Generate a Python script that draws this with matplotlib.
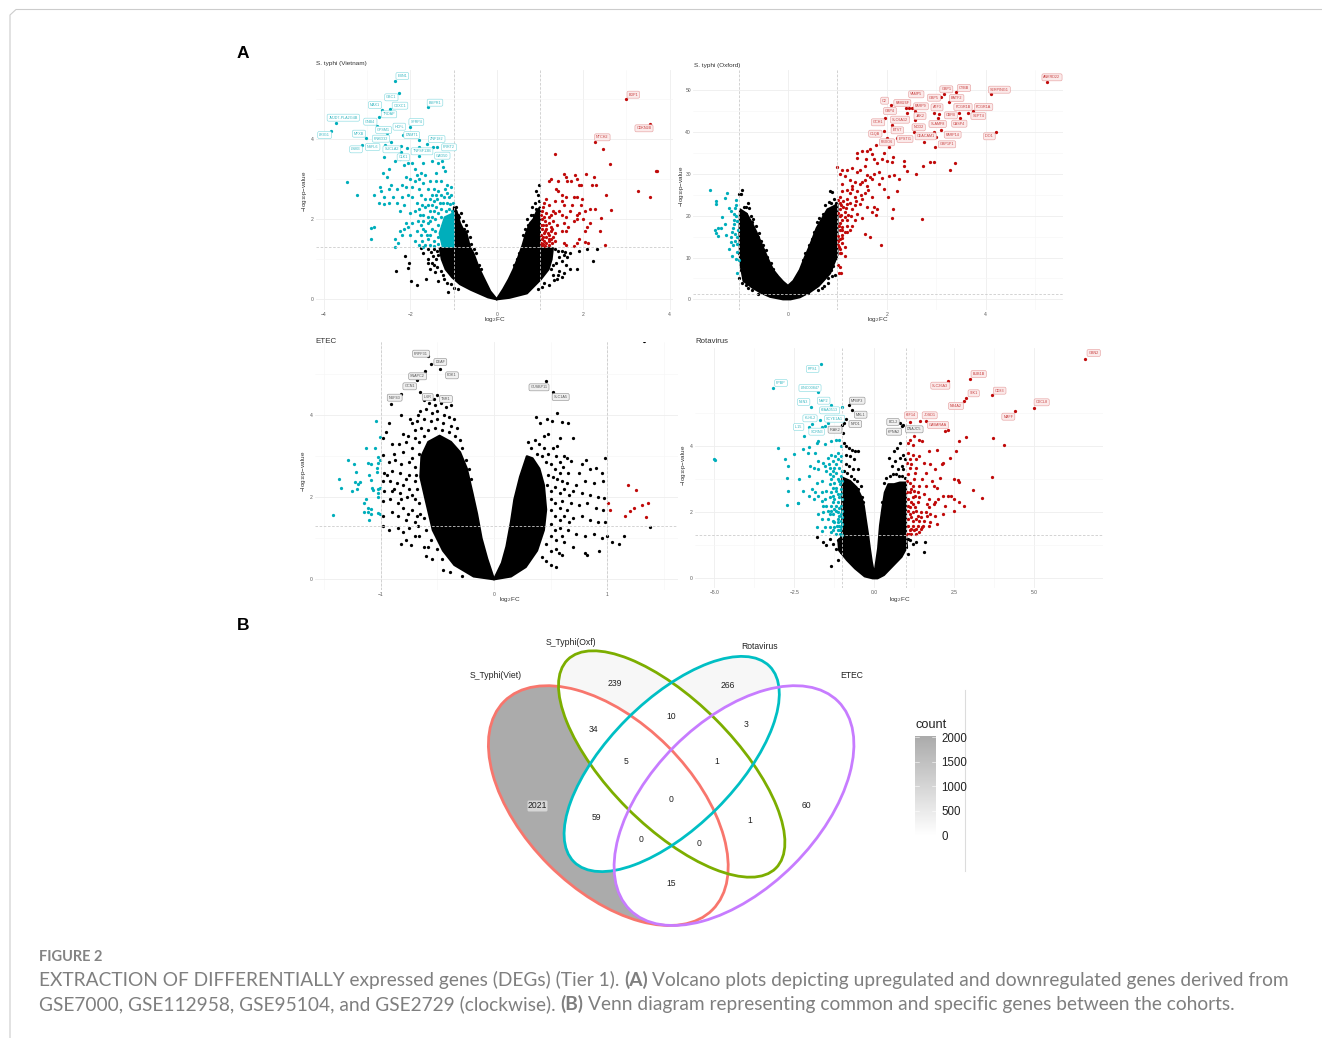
import matplotlib
matplotlib.use("Agg")
import matplotlib.pyplot as plt
import numpy as np
from matplotlib.patches import Ellipse, Polygon, FancyBboxPatch

W, H = 1322, 1038

# ---- S. typhi (Vietnam) values
vn_down = [(-2.36,5.47),(-2.27,5.17),(-1.58,4.8),(-2.66,4.73),(-2.47,4.76),(-2.72,4.57),(-3.72,4.42),(-2.76,4.33),(-2.01,4.32),(-3.83,4.22),
    (-2.55,4.17),(-2.18,4.12),(-3.03,4.03),(-1.81,3.99),(-2.44,3.94),(-3.11,3.87),(-2.58,3.87),(-2.21,3.83),(-1.62,3.89),(-1.39,3.82),(-1.47,3.81),
    (-2.07,3.79),(-1.79,3.82),(-2.21,3.69),(-1.81,3.58),(-3.47,2.94),(-3.24,2.62),(-2.85,2.6),(-2.92,1.79),(-2.83,1.8),(-2.9,1.5),
    (-2.6,3.55),(-2.5,3.25),(-2.63,3.15),(-2.55,3.05),(-2.45,2.85),(-2.35,3.45),(-2.25,3.5),(-2.15,3.35),(-2.05,3.4),(-1.95,3.4),(-1.9,3.25),(-1.7,3.4),
    (-1.5,3.45),(-1.35,3.4),(-1.27,3.45),(-1.25,3.3),(-1.2,3.2),(-1.4,3.15),(-1.85,3.1),(-1.75,3.15),(-1.65,3.1),(-2.1,3.05),(-2.0,3.0),(-1.9,2.95),
    (-1.8,3.0),(-1.7,2.9),(-1.55,2.95),(-1.4,2.95),(-1.3,2.95),(-1.15,2.85),(-2.7,2.8),(-2.68,2.72),(-2.5,2.75),(-2.3,2.75),(-2.2,2.85),(-2.1,2.8),
    (-1.95,2.8),(-1.8,2.75),(-1.6,2.75),(-1.45,2.75),(-2.6,2.55),(-2.72,2.4),(-2.62,2.38),(-2.5,2.4),(-2.4,2.55),(-2.3,2.4),(-2.2,2.55),(-2.15,2.35),
    (-2.05,2.6),(-1.95,2.55),(-1.85,2.4),(-1.75,2.6),(-1.65,2.5),(-2.25,2.2),(-2.0,2.15),(-1.9,2.2),(-1.8,2.25),(-1.7,2.1),(-2.1,1.9),(-2.05,1.8),
    (-1.95,1.9),(-2.15,1.75),(-2.25,1.7),(-2.2,1.6),(-2.35,1.5),(-2.28,1.4),(-2.35,1.32),(-2.0,1.6),(-1.85,1.7),(-1.75,1.6),(-1.9,1.45),(-1.8,1.35),
    (-1.6,1.5),(-1.65,1.7),(-1.6,1.9),(-1.55,2.2),(-1.45,2.45),(-1.3,2.6),(-1.15,2.65),(-1.05,2.8),(-1.1,2.55),(-1.25,2.4),(-1.55,1.35),(-1.5,1.75),
    (-1.5,2.05),(-1.4,2.3),(-1.6,2.35),(-1.7,1.95),(-1.75,1.85),(-1.05,2.6),(-1.2,2.75),(-1.35,2.7),(-1.5,2.6),(-1.4,2.6),(-1.6,2.05),(-1.65,1.35),
    (-1.02,2.4),(-1.08,2.38),(-1.15,2.42),(-1.22,2.55),(-1.32,2.42),(-1.38,2.5),(-1.5,2.35),(-1.55,2.5),(-1.65,2.3),(-1.72,2.35),(-1.78,2.1),(-1.83,1.95),(-1.7,1.75),(-1.45,2.2),(-1.35,2.15),(-1.28,2.25),
    (-1.42,2.0),(-1.55,1.95),(-1.35,1.85),(-1.42,1.7),(-1.55,1.6),(-1.35,1.55),(-1.45,1.45),(-1.35,1.38),(-1.45,1.33),(-1.72,1.45),(-1.62,1.6),(-1.7,1.32),(-1.28,2.05),(-1.18,2.2),(-1.1,2.25),(-1.03,2.2)]
vn_up = [(3.0,5.0),(3.55,4.38),(2.28,3.93),(2.47,3.75),(1.36,3.63),(2.62,3.39),(3.68,3.22),(3.72,3.2),(3.26,2.72),(3.55,2.55),(2.52,2.62),(2.64,2.23),
    (2.42,2.04),(2.4,1.71),(2.51,1.37),(1.2,2.97),(1.25,3.0),(1.43,2.95),(1.55,3.13),(1.6,3.05),(1.63,2.95),(1.72,2.95),(1.82,3.1),(1.85,3.0),(2.07,3.13),
    (2.25,3.07),(1.9,2.87),(1.95,2.85),(2.2,2.85),(2.3,2.87),(1.38,2.75),(1.43,2.72),(1.5,2.6),(1.6,2.55),(1.8,2.55),(1.85,2.55),(1.98,2.5),(1.1,2.4),
    (1.15,2.5),(1.22,2.35),(1.35,2.45),(1.5,2.45),(1.55,2.35),(1.75,2.35),(1.95,2.35),(2.05,2.2),(2.15,2.25),(2.27,2.25),(1.05,2.2),(1.15,2.15),(1.25,2.1),
    (1.35,2.15),(1.45,2.2),(1.5,2.1),(1.6,2.05),(1.7,2.2),(1.85,2.1),(1.9,2.15),(2.0,2.0),(1.05,2.0),(1.12,1.95),(1.2,1.9),(1.3,1.95),(1.4,1.85),(1.55,1.9),
    (1.65,1.8),(1.78,1.95),(1.85,2.0),(2.1,1.8),(2.15,1.9),(1.05,1.75),(1.1,1.65),(1.15,1.75),(1.25,1.7),(1.35,1.65),(1.5,1.7),(1.6,1.7),(2.05,1.7),(1.05,1.5),
    (1.1,1.45),(1.15,1.55),(1.2,1.45),(1.25,1.5),(1.3,1.55),(1.05,1.35),(1.12,1.33),(1.22,1.35),(1.55,1.4),(1.6,1.35),(1.8,1.33),(1.85,1.4),(1.9,1.5),(2.05,1.43),
    (2.12,1.4),(1.02,1.85),(1.03,1.6),(1.08,1.85),(1.18,1.65),(1.08,1.55),(1.15,1.4),(1.22,1.6),(1.28,1.75),(1.1,2.05),(1.2,2.05),(1.3,2.2),(1.08,2.3),
    (1.15,1.85),(1.25,1.82),(1.12,1.72),(1.2,1.52),(1.28,1.42),(1.35,1.45),(1.02,1.42),(1.08,1.38),(1.02,2.1)]
vn_other = [(-2.33,.7),(-2.13,1.08),(-2.03,.9),(-2.05,.78),(-1.98,.47),(-1.84,.35),(-1.63,.5),(-1.13,.18),(-1.7,1.15),(-1.6,1.0),(-1.5,.9),(-1.75,1.28),
    (-1.55,.75),(-1.35,.45),(-1.25,.6),(1.1,.4),(1.3,.6),(1.4,.5),(1.5,.55),(1.7,.75),(1.87,.75),(2.22,.97),(2.1,1.25),(2.33,1.26),(1.9,1.2),(1.7,1.15),
    (1.5,.95),(1.55,1.1),(.95,2.6),(.97,2.85),(.92,2.7),(.98,2.45),(-.95,2.3),(-.9,2.1),(-.78,1.95),(-.72,1.85),(-.62,1.55),(.62,1.6),(.7,2.0),(.8,2.1),
    (-1.6,1.25),(-1.52,1.18),(-1.45,1.25),(-1.38,1.2),(-1.48,1.08),(-1.4,1.0),(-1.45,.85),(-1.38,.8),(-1.35,1.1),(-1.58,.9),(-1.3,.7),(-1.42,.68),(-1.22,.52),(-1.15,.42),(-1.05,.38),(-.98,.28),(-.9,.25),
    (-.88,2.05),(-.82,2.15),(-.75,1.75),(-.68,1.7),(-.6,1.38),(-.52,1.25),(-.48,1.15),(-.42,.85),(-.36,.75),
    (1.35,1.25),(1.42,1.2),(1.5,1.22),(1.58,1.18),(1.62,1.05),(1.45,1.05),(1.38,.9),(1.6,.85),(1.3,.85),(1.45,.72),(1.32,.48),(1.2,.35),(1.05,.3),(.95,.25),(1.25,.75),(1.55,.65),(1.42,.62),
    (.88,2.4),(.85,2.1),(.82,2.3),(.9,2.25),(.72,1.85),(.66,1.75),(.52,1.15),(.46,1.0),(.4,.85)]
vn_cloud = [(0,0),(-.2,.05),(-.39,.14),(-.6,.24),(-.85,.38),(-1.03,.55),(-1.18,.75),(-1.27,1.0),(-1.32,1.28),(-1.0,1.3),(-.99,2.3),(-.93,2.2),(-.85,1.9),(-.78,1.75),(-.7,1.65),(-.62,1.3),(-.54,1.15),(-.42,.8),(-.31,.55),(-.15,.2),
    (0,0),(.15,.25),(.28,.5),(.39,.75),(.5,1.05),(.6,1.35),(.68,1.65),(.77,1.9),(.85,2.0),(.93,2.2),(1.0,2.3),(1.0,1.3),(1.3,1.28),(1.27,1.0),(1.2,.75),(1.02,.5),(.7,.15),(.3,.04)]
vn_cyan_cloud = [(-1.0,1.32),(-1.25,1.32),(-1.32,1.65),(-1.2,2.05),(-1.0,2.15)]
vn_names = ["EBN1","GBC1","MAX1","CXXC1","TRDAP","BMPR1","JMJD7-PLA2G4B","GNB4","GPSM1","SFRP4","HCFL","DNMT1","MFXB","LRIG1","PNKD32","ZNF182","NSFL6","SUCLA2","TNFSF13B","PRRT2","LSM3","GAD50","CLK1"]
vn_up_names = ["BDP1","CDKN2B","NTCH2"]

# ---- S. typhi (Oxford)
ox_up = [(5.25,52),(4.1,49),(3.4,49.5),(3.15,49),(3.1,48.5),(3.25,47.2),(2.08,46.5),(2.38,45.8),(2.45,45.8),(2.5,45.8),(2.58,45),(2.4,44.6),(2.95,44.5),(3.05,44.3),
    (3.47,44.6),(3.65,44.5),(3.75,45),(3.48,43.3),(3.03,43.3),(1.97,43.4),(2.4,43.4),(2.58,42.8),(2.1,41.6),(3.1,40.5),(2.95,40.1),(2.55,40),(1.95,40.3),(4.22,40.1),
    (3.0,38.8),(2.0,38.6),(2.2,38.6),(2.75,37.6),(1.9,37.8),(2.98,36.5),(2.05,36.4),(1.78,37),(1.65,36),(1.6,35.5),(1.5,35.5),(1.4,35),(1.7,34.8),(1.95,35),(2.13,34),
    (1.4,33.9),(1.58,33.6),(1.75,33.6),(1.9,33.6),(2.0,33.2),(2.35,33.2),(2.1,32.8),(2.95,32.8),(2.88,32.8),(3.38,32.5),(2.73,32),(2.35,31.8),(1.0,31.6),(1.1,31),(1.2,31),
    (1.3,31.5),(1.45,31),(1.55,31.8),(1.8,32.5),(3.27,30.9),(2.4,30.6),(2.6,30),(1.05,30),(1.15,29.5),(1.4,30.5),(1.6,29.8),(1.85,30.5),(2.05,29.5),(2.15,29.7),(2.25,28.7),
    (1.25,28.5),(1.35,28),(1.5,28),(1.7,28.7),(1.9,29),(1.1,27.5),(1.3,27),(1.45,27.5),(1.6,27),(1.85,27.5),(1.1,26),(1.25,25.5),(1.4,26),(1.55,25.5),(1.95,26.3),(2.2,25.8),
    (2.03,24.5),(1.05,24.5),(1.2,24),(1.35,24.5),(1.5,24),(1.7,24.5),(1.05,23),(1.2,22.8),(1.45,22.8),(1.6,22.2),(1.75,22.2),(1.8,21.5),(2.13,21.6),(1.05,21.5),(1.15,21),
    (1.3,21.5),(1.4,20.5),(1.7,20.8),(1.78,20.2),(2.1,19.5),(2.72,19.3),(1.05,20),(1.2,19),(1.35,19),(1.5,19.5),(1.05,18.2),(1.2,17.5),(1.3,17.5),(1.05,16.5),(1.1,15.5),
    (1.25,16.5),(1.55,15.6),(1.65,14.8),(1.05,14.5),(1.1,13.5),(1.15,12.5),(1.88,13),(1.05,12),(1.05,11),(1.15,10.4),(1.02,8.3),(1.03,6.3),(1.07,6.3),(1.05,7.8),
    (1.12,23.5),(1.25,23),(1.12,22),(1.22,20.2),(1.1,19),(1.1,17.3),(1.15,16),(1.02,15.2),(1.02,13),(1.08,11),(1.3,26.5),(1.2,26.2),(1.55,28.5),(1.65,29.2),(1.75,30),
    (1.02,23.8),(1.08,22.5),(1.18,21.8),(1.02,20.6),(1.08,20.2),(1.15,19.8),(1.28,20),(1.03,17.5),(1.1,16.5),(1.2,16.2),(1.02,14),(1.1,14.7),(1.03,12.5),(1.35,22.5),(1.38,23.5),(1.48,25),(1.62,26.2)]
ox_down = [(-1.57,26.2),(-1.46,23.4),(-1.45,22.7),(-1.24,25.4),(-1.27,24.3),(-1.05,23.8),(-1.19,21.8),(-1.34,19.6),(-1.42,17.1),(-1.35,17),(-1.27,18),(-1.45,15.8),(-1.47,16.5),
    (-1.42,15.2),(-1.25,15.5),(-1.12,17),(-1.1,18),(-1.05,20),(-1.1,20.5),(-1.15,21.2),(-1.08,21.8),(-1.05,22.5),(-1.03,18.8),(-1.1,19),(-1.13,16),(-1.15,15),(-1.08,15.7),
    (-1.02,16.5),(-1.03,15),(-1.08,14),(-1.12,13),(-1.15,13.8),(-1.2,12),(-1.13,10.3),(-1.04,11.2),(-1.0,9.5),(-1.04,6.3),(-1.05,9.7),(-1.03,13.3)]
ox_other = [(-1,25.2),(-.93,26.2),(-.95,25.3),(.85,25.8),(.9,25.6),(-.8,19),(-.75,20),(.8,5),(.9,5.5),(-.9,5),(-.85,3.5),(.55,4),(.4,1.5),(-.7,19.2),(-.6,15),(.65,14),(-.9,22),(-.8,23),(-.85,20.5),(.98,23),(.95,22),
    (-.85,22.2),(-.78,21.8),(-.72,18.5),(-.65,17.5),(-.58,15.8),(-.55,14),(-.5,13),(-.45,11.8),(-.42,10.2),(-.35,8.8),(-.3,7.2),(-.25,5.8),(-.18,4.8),
    (.18,5),(.25,7),(.3,9.5),(.35,11),(.42,13),(.48,14.5),(.52,16),(.58,18.5),(.62,19.5),(.7,20.5),(.75,22.5),(.82,23.2),(.88,23),(.93,24),(.95,5.8),(.88,7),(.92,8),(.97,9.8),(.8,4),(.72,3.2),
    (-1,5),(-.95,7),(-1.0,11),(-.93,3.8),(-.8,2.6),(-.72,2.2),(-.6,1.2),(.6,2.2),(.68,2.8)]
ox_cloud = [(0,3.2),(-.1,4.2),(-.2,5.5),(-.3,7.0),(-.42,10),(-.52,12.8),(-.63,15.8),(-.72,18),(-.84,20.5),(-.97,21.5),(-.98,16.2),(-.97,9),(-.9,4.4),(-.72,2.8),(-.55,1.6),(-.36,.6),(-.1,0),(.05,0),(.24,.5),(.45,1.8),(.62,3.2),(.85,6.2),
    (1,10.6),(1,22.8),(.92,22.2),(.8,21.5),(.7,19.5),(.58,17),(.45,13),(.34,10),(.24,7.0),(.11,4.4)]
ox_names = ["ANKRD22","CYBB","GBP1","SERPING1","VAMP5","GBP5","BATF2","FAM26F","C2","GBP4","PARP9","ATF3","FCGR1B","FCGR1A","JAK2","CBFB","SEPT4","SLC6A12","GCH1","SLAMF8","CASP4","ETV7","NOD2","C1QB","PARP14","IDO1","EPSTI1","CEACAM1","FBXO6","GBP1P1"]

# ---- ETEC
et_down = [(-1.04,3.87),(-1.01,3.48),(-1.13,3.2),(-1.05,3.21),(-1.29,2.9),(-1.24,2.8),(-1.11,2.83),(-1.09,2.82),(-1.02,2.99),(-1.01,2.91),(-1.02,2.83),(-1.035,2.71),(-1.035,2.61),(-1.22,2.61),
    (-1.1,2.54),(-1.37,2.45),(-1.23,2.38),(-1.18,2.38),(-1.2,2.33),(-1.085,2.42),(-1.35,2.22),(-1.25,2.15),(-1.21,2.2),(-1.08,2.22),(-1.07,2.18),(-1.005,2.22),(-1.02,2.2),(-1.02,2.1),(-1.02,2),
    (-1.13,1.96),(-1.15,1.85),(-1.11,1.73),(-1.09,1.72),(-1.15,1.65),(-1.115,1.65),(-1.09,1.6),(-1.02,1.61),(-1.01,1.59),(-1.42,1.57),(-1.1,1.44)]
et_up = [(1.18,2.29),(1.25,2.18),(1.01,1.86),(1.02,1.69),(1.2,1.67),(1.24,1.73),(1.16,1.55),(1.31,1.81),(1.36,1.87),(1.34,1.53)]
et_other = [(1.32,5.8),(-.58,5.44),(-.56,5.26),(-.48,5.12),(-.61,5.08),(-.68,4.85),(-.65,4.58),(-.82,4.53),(-.91,4.27),(-.82,4.0),(-.5,4.5),(-.53,4.4),(.46,4.84),(.52,4.58),
    (.37,3.97),(.56,4.05),(.47,3.9),(.41,3.8),(.51,3.85),(.6,3.83),(.65,3.8),(.7,3.44),(.58,3.45),(.48,3.55),(.44,3.5),(.55,3.0),(.62,3.0),(.64,2.95),(.68,2.88),(.78,2.8),(.81,2.9),(.85,2.7),(.9,2.72),(.98,2.95),
    (.95,2.6),(.75,2.6),(.65,2.6),(.58,2.6),(.72,2.3),(.8,2.4),(.88,2.35),(.96,2.4),(.62,2.2),(.7,2.15),(.78,2.1),(.85,2.05),(.92,2.0),(.97,1.98),(.6,1.9),(.68,1.85),(.75,1.8),(.82,1.85),(.9,1.75),(.96,1.7),
    (.62,1.55),(.7,1.5),(.78,1.55),(.85,1.45),(.92,1.4),(.98,1.4),(.58,1.25),(.65,1.2),(.72,1.1),(.8,1.05),(.88,1.1),(.95,1.0),(1.0,1.05),(1.04,.9),(1.1,.87),(1.15,1.05),(1.38,1.27),(.62,.9),(.7,.8),(.8,.65),(.82,.6),(.93,.7),(.6,.6),(.5,.35),(.55,.3),(.57,.65),
    (-.74,3.9),(-.72,3.8),(-.67,4.0),(-.93,3.8),(-.95,3.6),(-.8,3.55),(-.76,3.5),(-.98,3.45),(-.9,3.3),(-.84,3.3),(-.8,3.1),(-.72,3.2),(-.98,3.02),(-.93,2.87),(-.87,2.9),(-.82,2.8),(-.75,2.85),(-.97,2.6),
    (-.9,2.65),(-.83,2.6),(-.75,2.55),(-.7,2.4),(-.98,2.4),(-.92,2.4),(-.86,2.35),(-.8,2.3),(-.75,2.2),(-.97,2.15),(-.9,2.15),(-.83,2.1),(-.77,2.0),(-.7,1.95),(-.98,1.9),(-.92,1.95),(-.85,1.85),(-.8,1.75),(-.72,1.7),
    (-.98,1.55),(-.85,1.55),(-.78,1.45),(-.7,1.4),(-.98,1.3),(-.85,1.25),(-.8,1.15),(-.7,1.05),(-.82,.85),(-.73,.83),(-.62,.78),(-.58,.8),(-.6,.57),(-.55,.5),(-.45,.22),(-.39,.17),(-.28,.08),(-.67,1.3),(-.65,1.6),
    # top of the left wing, above the solid part
    (-.62,4.38),(-.57,4.3),(-.52,4.25),(-.47,4.3),(-.42,4.2),(-.38,4.25),(-.65,4.1),(-.6,4.15),(-.55,4.05),(-.5,4.1),(-.44,4.0),(-.4,3.95),(-.35,3.9),(-.68,3.85),(-.62,3.9),(-.56,3.85),(-.5,3.9),(-.45,3.8),(-.38,3.75),
    (-.33,3.7),(-.7,3.65),(-.64,3.7),(-.58,3.65),(-.52,3.7),(-.46,3.65),(-.4,3.6),(-.34,3.5),(-.3,3.4),(-.7,3.45),(-.66,3.35),(-.62,3.5),(-.28,3.2),(-.25,2.9),(-.22,2.7),(-.2,2.45),
    # solid edge of the left wing
    (-.72,2.95),(-.7,2.75),(-.69,2.55),(-.68,2.2),(-.66,1.85),(-.62,1.5),(-.6,1.2),(-.56,.95),(-.5,.75),(-.46,.5),(-.66,3.05),(-.78,3.35),(-.88,3.05),(-.94,2.55),(-.78,2.45),(-.88,2.2),(-.72,2.05),(-.82,1.95),(-.9,1.65),(-.76,1.6),(-.68,1.55),(-.93,1.2),(-.75,1.25),(-.66,1.05),(-.78,.95),
    # right wing
    (.3,3.35),(.33,3.2),(.36,3.4),(.4,3.3),(.44,3.2),(.48,3.05),(.52,3.2),(.56,3.25),(.38,3.05),(.42,3.0),(.46,2.85),(.5,2.8),(.54,2.7),(.58,2.85),(.61,2.75),(.48,2.55),(.52,2.5),(.56,2.45),(.6,2.4),(.64,2.35),
    (.47,2.3),(.5,2.15),(.54,2.25),(.58,2.1),(.66,2.05),(.5,1.95),(.54,1.85),(.58,1.75),(.64,1.7),(.5,1.7),(.54,1.55),(.58,1.45),(.66,1.4),(.5,1.35),(.54,1.2),(.5,1.05),(.55,.95),(.6,1.05),(.46,.85),(.5,.7),(.55,.75),(.42,.55),(.46,.45)]
et_cloud_left = [(0,0),(-.06,.5),(-.11,1.0),(-.15,1.6),(-.19,2.1),(-.24,2.7),(-.3,3.1),(-.38,3.35),(-.48,3.5),(-.58,3.35),(-.64,3.0),(-.65,2.5),(-.6,1.9),(-.54,1.2),(-.45,.7),(-.35,.35),(-.18,.07)]
et_cloud_right = [(0,0),(.07,.4),(.11,.8),(.15,1.4),(.18,1.95),(.23,2.5),(.29,3.0),(.34,2.95),(.4,2.7),(.44,2.3),(.46,1.7),(.44,1.2),(.38,.7),(.28,.3),(.15,.07)]
et_names = ["PRPF31","DEAF","PDK1","SNAPC2","GCN1","NUP43","IL6R","TSR1","GUSBP11","SLC1A5"]

# ---- Rotavirus
ro_down = [(-1.68,6.48),(-3.16,5.78),(-1.77,5.64),(-1.98,5.2),(-1.35,5.25),(-1.02,5.19),(-1.7,4.8),(-1.96,4.67),(-2.04,4.57),(-1.44,4.7),(-1.54,4.63),(-1.65,4.59),(-2.19,4.31),(-3.02,3.94),(-2.5,3.77),(-2.78,3.63),
    (-2.7,3.41),(-2.73,3.04),(-2.71,2.66),(-2.72,2.23),(-2.4,2.27),(-2.37,2.29),(-5.01,3.61),(-4.97,3.59),(-2.35,3.0),(-2.24,2.65),(-2.23,3.91),(-2.06,3.79),(-2.04,3.98),(-1.79,4.11),
    (-1.75,4.15),(-1.55,4.08),(-1.35,4.17),(-1.2,4.2),(-1.1,4.18),(-1.05,4.0),(-1.85,3.8),(-1.75,3.55),(-1.6,3.5),(-1.45,3.65),(-1.3,3.55),(-1.15,3.6),(-1.05,3.55),(-2.0,3.4),(-1.9,3.35),(-1.75,3.3),(-1.55,3.4),(-1.4,3.35),(-1.25,3.35),(-1.1,3.35),
    (-2.05,3.1),(-1.4,3.15),(-1.3,3.1),(-1.2,3.2),(-1.05,3.1),(-1.1,2.95),(-1.25,2.9),(-1.4,2.85),(-1.65,2.95),(-1.8,2.9),(-1.95,2.7),(-2.05,2.5),(-1.85,2.6),(-1.75,2.5),(-1.65,2.6),(-1.5,2.65),(-1.35,2.6),(-1.2,2.65),(-1.05,2.7),
    (-1.9,2.4),(-1.65,2.35),(-1.55,2.4),(-1.4,2.45),(-1.25,2.4),(-1.1,2.45),(-1.6,2.2),(-1.5,2.2),(-1.35,2.2),(-1.2,2.2),(-1.05,2.2),(-1.75,1.95),(-1.6,2.0),(-1.45,2.05),(-1.3,1.95),(-1.15,2.0),(-1.03,1.95),(-1.65,1.8),(-1.45,1.8),(-1.3,1.75),(-1.15,1.8),(-1.05,1.75),
    (-1.78,1.55),(-1.55,1.55),(-1.4,1.55),(-1.25,1.55),(-1.1,1.6),(-1.03,1.55),(-1.62,1.43),(-1.35,1.4),(-1.2,1.35),(-1.08,1.35),(-1.02,1.32),(-1.15,1.45),(-1.25,1.7),(-1.1,1.9),(-1.2,2.05),(-1.12,2.3),(-1.3,2.3),(-1.05,2.55),(-1.2,2.75),(-1.15,3.0),(-1.3,3.25),(-1.2,3.45),(-1.35,2.05),
    (-1.03,3.7),(-1.12,3.8),(-1.22,3.7),(-1.35,3.75),(-1.42,3.45),(-1.5,3.25),(-1.35,3.0),(-1.28,2.75),(-1.08,2.85),(-1.02,2.95),(-1.02,3.25),(-1.15,2.55),(-1.28,2.5),(-1.02,2.4),(-1.02,2.05),(-1.1,2.12),(-1.25,2.1),(-1.4,1.95),(-1.12,1.7),(-1.02,1.65),(-1.28,1.45),(-1.18,1.6),(-1.08,1.45),(-1.02,1.85)]
ro_up = [(6.59,6.66),(3.0,6.05),(2.3,5.98),(2.85,5.45),(2.8,5.37),(3.67,5.54),(4.98,5.16),(4.4,5.06),(1.6,4.77),(1.42,4.77),(1.1,4.73),(2.2,4.45),(2.3,4.5),(3.7,4.25),(2.88,4.28),(2.64,4.16),(4.06,4.03),(2.55,3.85),(2.38,3.66),(3.68,3.06),(3.07,2.67),(3.38,2.44),
    (1.1,4.2),(1.25,4.3),(1.4,4.2),(1.5,4.15),(1.2,4.05),(1.05,4.1),(1.95,3.9),(1.7,3.85),(1.05,3.8),(1.2,3.75),(1.4,3.7),(1.55,3.5),(1.1,3.6),(1.3,3.6),(2.15,3.5),(2.1,3.45),(1.75,3.45),(1.9,3.3),(2.05,3.05),(2.5,3.0),(2.6,2.98),(2.65,2.93),(1.1,3.35),(1.3,3.35),(1.6,3.2),
    (1.05,3.15),(1.25,3.0),(1.5,3.0),(1.8,2.95),(1.4,2.8),(1.6,2.8),(1.85,2.8),(1.95,2.75),(1.1,2.6),(1.25,2.65),(1.35,2.6),(1.55,2.55),(1.05,2.4),(1.2,2.45),(1.4,2.45),(1.7,2.4),(1.9,2.3),(2.0,2.4),(2.15,2.5),(2.3,2.5),(2.4,2.5),(2.5,2.4),(2.65,2.3),(2.8,2.2),
    (1.05,2.2),(1.2,2.25),(1.35,2.3),(1.65,2.25),(1.7,2.15),(1.85,2.25),(2.2,2.2),(1.05,2.05),(1.2,2.0),(1.3,2.05),(1.45,2.0),(1.6,2.0),(1.75,1.95),(1.9,1.9),(2.15,1.95),(2.5,2.03),(1.05,1.8),(1.15,1.85),(1.3,1.8),(1.45,1.85),(1.55,1.75),(1.65,1.9),(1.75,1.7),(1.97,1.65),
    (1.05,1.6),(1.2,1.6),(1.35,1.6),(1.5,1.55),(1.7,1.6),(1.1,1.45),(1.25,1.45),(1.4,1.4),(1.52,1.6),(1.02,1.35),(1.15,1.33),(1.3,1.35),(1.45,1.5),(1.1,2.9),(1.2,2.8),(1.15,2.3),
    (1.02,3.5),(1.15,3.45),(1.28,3.2),(1.02,2.95),(1.15,2.7),(1.02,2.6),(1.28,2.5),(1.1,2.15),(1.28,2.15),(1.12,1.95),(1.22,1.75),(1.38,1.9),(1.15,1.5),(1.3,1.5),(1.08,1.35),(1.4,1.75)]
ro_other = [(-.78,5.25),(-.7,5.1),(-.88,4.82),(-1.0,4.65),(-.95,4.72),(-.98,4.4),(.9,4.65),(.85,4.62),(.8,4.7),(.78,4.48),(1.1,1.15),(1.0,.95),(1.57,1.09),(1.56,.81),(1.3,1.1),(-1.78,1.25),(-1.6,1.1),(-1.5,1.0),(-1.4,1.2),(-1.35,.38),(-1.12,.55),(-1.2,.9),(-1.15,1.15),(-1.05,.8),
    (-.95,4.1),(-.9,4.0),(-.8,3.95),(-.7,3.9),(-.6,3.85),(-.5,3.85),(-.9,3.75),(-.75,3.7),(-.65,3.6),(-.5,3.3),(-.9,3.45),(-.78,3.4),(-.68,3.3),(.46,3.65),(.6,3.85),(.7,3.95),(.8,4.1),(.65,3.55),(.8,3.65),(.9,3.75),(.55,3.4),(.75,3.3),(.85,3.4),(.95,3.6),(.9,3.3),
    (-.95,3.25),(-.85,3.2),(-.72,3.1),(-.62,3.0),(-.55,2.95),(-.5,2.7),(-.42,2.8),(-.35,2.3),(.3,2.9),(.38,3.05),(.48,3.1),(.58,3.15),(.68,3.15),(.78,3.1),(.88,3.1),(.95,3.05),(-.38,2.45),(.25,2.3),(-1.1,1.2),(-1.3,1.05),(1.05,1.2),(1.2,1.05),(1.05,.75)]
ro_cloud = [(0,.1),(-.08,.5),(-.14,.9),(-.2,1.35),(-.27,1.8),(-.33,2.2),(-.4,2.45),(-.55,2.75),(-.76,2.95),(-1,3.05),(-1,1.31),(-1.12,1.1),(-1.1,.85),(-.85,.55),(-.6,.3),(-.3,.06),(-.05,0),(.1,0),(.3,.1),(.55,.35),(.85,.65),
    (1.02,.95),(.99,1.31),(.99,2.9),(.8,2.9),(.62,2.85),(.44,2.85),(.33,2.6),(.25,2.1),(.18,1.6),(.12,.9),(.06,.5)]
ro_down_names = ["RPS1","PPBP","LINC00847","NLN3","NAP2","KIAA0513","KLHL2","SCYE1A1","IL15","SCRN3"]
ro_other_names = ["IRAK2","MPBP3","MXL1","NPD1","BCL2","KPNA2","DNAJC5"]
ro_up_names = ["GBN2","KIF14","JOSD1","GABARAA","BUB1B","SLC26A3","SIK1","CD83","NR4A2","CXCL8","MAFF"]

# ---- Venn
venn_sets = ["S_Typhi(Viet)", "S_Typhi(Oxf)", "Rotavirus", "ETEC"]
venn_counts = ["2021","239","266","60","34","10","3","5","1","0","59","1","0","0","15"]
bar_ticks = [0, 500, 1000, 1500, 2000]
bar_max = 2021

CYAN = "#00AEBB"; RED = "#C00A0A"; BLACK = "#000000"; DARK = "#555555"
VENN_COL = ["#F8766D", "#7CAE00", "#00BFC4", "#C77CFF"]

plt.rcParams['font.family'] = ['Liberation Sans', 'DejaVu Sans']
plt.rcParams['mathtext.default'] = 'regular'
fig = plt.figure(figsize=(W / 100, H / 100), dpi=100)


def px_axes(left, top, right, bottom):
    return fig.add_axes([left / W, 1 - bottom / H, (right - left) / W, (bottom - top) / H])


def volcano(box, x0_px, x_scale, y0_px, y_scale, xticks, xlabels, yticks, ylabels, xminor, yminor, vline, clouds, other, down, up, title, title_xy, xlab_xy, ylab_xy):
    # box and anchors are in figure pixels, limits follow from them
    left, top, right, bottom = box
    ax = px_axes(left, top, right, bottom)
    ax.set_xlim((left - x0_px) / x_scale, (right - x0_px) / x_scale)
    ax.set_ylim((y0_px - bottom) / y_scale, (y0_px - top) / y_scale)
    ax.set_xticks(xticks)
    ax.set_xticklabels(xlabels)
    ax.set_yticks(yticks)
    ax.set_yticklabels(ylabels)
    ax.set_xticks(xminor, minor=True)
    ax.set_yticks(yminor, minor=True)
    ax.grid(True, which='major', color='#eeeeee', lw=0.6)
    ax.grid(True, which='minor', color='#f6f6f6', lw=0.4)
    ax.set_axisbelow(True)
    ax.tick_params(which='both', length=0, labelsize=3.6, labelcolor='#5a5a5a', pad=1.5)
    for s in ax.spines.values():
        s.set_visible(False)
    ax.axvline(-vline, color='#cccccc', lw=0.6, ls=(0, (3, 2)), zorder=5)
    ax.axvline(vline, color='#cccccc', lw=0.6, ls=(0, (3, 2)), zorder=5)
    ax.axhline(1.3, color='#cccccc', lw=0.6, ls=(0, (3, 2)), zorder=5)
    for c, col in clouds:
        ax.add_patch(Polygon(c, closed=True, fc=col, ec=col, lw=1.6, joinstyle='round', zorder=2))
    for pts, col in ((other, BLACK), (down, CYAN), (up, RED)):
        a = np.array(pts)
        ax.scatter(a[:, 0], a[:, 1], s=5.5, c=col, lw=0, zorder=3)
    fig.text(title_xy[0] / W, 1 - title_xy[1] / H, title, fontsize=title_xy[2], color='#333333', va='center')
    fig.text(xlab_xy[0] / W, 1 - xlab_xy[1] / H, 'log$_2$FC', fontsize=4.6, color='#333333', ha='center', va='center')
    fig.text(ylab_xy[0] / W, 1 - ylab_xy[1] / H, '\u2212log$_{10}$p\u2212value', fontsize=4.6, color='#333333', rotation=90, ha='center', va='center')
    return ax


def gene_labels(names, crop_xy, offset, col):
    # crop_xy: label centres in the 3x crop of that panel
    fc, ec, tc = {CYAN: ('#ffffff', '#7fd8de', '#3ab8c2'), RED: ('#fbeaea', '#e59a9a', '#c84040'), DARK: ('#f0f0f0', '#8a8a8a', '#555555')}[col]
    for n, (zx, zy) in zip(names, crop_xy):
        fig.text((offset[0] + zx / 3) / W, 1 - (offset[1] + zy / 3) / H, n, fontsize=2.7, color=tc, ha='center', va='center', zorder=6,
                 bbox=dict(boxstyle='round,pad=0.4', fc=fc, ec=ec, lw=0.4))


volcano((316, 70, 673, 310), 496.7, 43.2, 299.3, 40, [-4, -2, 0, 2, 4], ['\u22124', '\u22122', '0', '2', '4'], [0, 2, 4], ['0', '2', '4'], [-3, -1, 1, 3], [1, 3, 5], 1,
        [(vn_cloud, BLACK), (vn_cyan_cloud, CYAN)], vn_other, vn_down, vn_up, 'S. typhi (Vietnam)', (315.5, 64, 4.6), (495, 319.5), (304.5, 191))
gene_labels(vn_names, [(307,63),(274,127),(225,150),(300,152),(267,178),(405,143),(130,188),(211,200),(251,225),(349,201),(298,215),(335,240),(177,236),(74,240),(243,251),(410,252),(218,276),(275,283),(366,289),(447,277),(168,283),(427,302),(310,307)], (300, 55), CYAN)
gene_labels(vn_up_names, [(1000,119),(1032,220),(907,247)], (300, 55), RED)

volcano((693, 70, 1063, 310), 788, 49.4, 299.3, 4.18, [0, 2, 4], ['0', '2', '4'], [0, 10, 20, 30, 40, 50], ['0', '10', '20', '30', '40', '50'], [-1, 1, 3, 5], [5, 15, 25, 35, 45], 1,
        [(ox_cloud, BLACK)], ox_other, ox_down, ox_up, 'S. typhi (Oxford)', (694, 65, 4.6), (878, 319.5), (681, 186))
gene_labels(ox_names, [(1116,67),(852,99),(799,103),(958,104),(709,118),(762,128),(830,129),(667,144),(614,137),(630,168),(723,154),(771,157),(849,156),(911,156),(720,183),(813,181),(895,183),(660,194),(594,202),(773,207),(838,206),(652,226),(716,217),(586,236),(818,239),(928,244),(675,252),(737,244),(621,262),(801,268)], (680, 55), RED)

volcano((315, 342, 678, 590), 494, 113.3, 579.3, 41, [-1, 0, 1], ['\u22121', '0', '1'], [0, 2, 4], ['0', '2', '4'], [-1.5, -.5, .5, 1.5], [1, 3, 5], 1,
        [(et_cloud_left, BLACK), (et_cloud_right, BLACK)], et_other, et_down, et_up, 'ETEC', (315, 341.5, 5.8), (510, 600), (304, 471))
gene_labels(et_names, [(363,56),(421,81),(456,121),(353,124),(329,154),(284,188),(383,186),(438,192),(717,157),(782,186)], (300, 335), DARK)

volcano((695, 348, 1103, 588), 874.3, 32, 578.3, 33, [-5, -2.5, 0, 2.5, 5], ['\u22125.0', '\u22122.5', '0.0', '2.5', '5.0'], [0, 2, 4], ['0', '2', '4'], [-3.75, -1.25, 1.25, 3.75], [1, 3, 5], 1,
        [(ro_cloud, BLACK)], ro_other, ro_down, ro_up, 'Rotavirus', (695, 341.5, 5.6), (900, 599), (683, 465))
gene_labels(ro_down_names, [(398,102),(303,144),(390,159),(371,201),(431,197),(449,226),(390,250),(464,251),(356,276),(410,290)], (680, 335), CYAN)
gene_labels(ro_other_names, [(465,284),(532,197),(542,239),(526,267),(639,261),(642,290),(703,283)], (680, 335), DARK)
gene_labels(ro_up_names, [(1241,54),(693,241),(749,241),(774,270),(896,117),(781,152),(881,175),(959,167),(828,213),(1085,202),(985,245)], (680, 335), RED)

# ---- Venn, full figure axes in pixels
venn = fig.add_axes([0, 0, 1, 1], zorder=1)
venn.set_xlim(0, W)
venn.set_ylim(H, 0)
venn.axis('off')
venn.patch.set_alpha(0)


def shape(cx, cy, a, b, ang, **kw):
    return Ellipse((cx, cy), 2 * a, 2 * b, angle=ang, **kw)


# angle is measured on the inverted y axis, +45 runs down to the right
SHAPES = [(608.3, 805.6, 147.3, 84, 45), (671.7, 764, 147.3, 62.7, 45), (671.7, 764, 138.3, 63.5, -45), (734, 805.6, 147.3, 84, -45)]
red_e, grn_e, blu_e, pur_e = SHAPES
LIGHT = '#F7F7F7'; GREY = '#ABABAB'


def fill(spec, col, clip=None):
    p = shape(*spec, fc=col, ec='none', zorder=1)
    venn.add_patch(p)
    if clip is not None:
        c = shape(*clip, transform=venn.transData)
        p.set_clip_path(c)


fill(grn_e, LIGHT)
fill(blu_e, LIGHT)
fill(grn_e, 'white', blu_e)
fill(pur_e, 'white')
fill(red_e, GREY)
fill(grn_e, 'white', red_e)
fill(blu_e, 'white', red_e)
fill(pur_e, 'white', red_e)
for spec, col in zip(SHAPES, VENN_COL):
    venn.add_patch(shape(*spec, fc='none', ec=col, lw=2.0, zorder=3))

set_xy = [(496, 676), (571, 642.5), (759.5, 646.5), (851.5, 676)]
for n, (x, y) in zip(venn_sets, set_xy):
    venn.text(x, y, n, fontsize=6.2, color='#222222', ha='center', va='center')
count_xy = [(537.5, 806), (615, 683), (727.5, 686), (806.5, 805), (593.5, 729), (671.5, 716.5), (746.5, 724.5), (626, 762), (717, 762), (671, 800), (596, 818), (749.5, 820.5), (641, 839.5), (699, 843), (671.5, 883.5)]
for n, (x, y) in zip(venn_counts, count_xy):
    venn.text(x, y, n, fontsize=6.2, color='#222222', ha='center', va='center', zorder=4)
venn.add_patch(FancyBboxPatch((527.5, 800.5), 20, 11, boxstyle='round,pad=0,rounding_size=1.5', fc='#d6d6d6', ec='none', zorder=3))

# ---- colour bar
cb = px_axes(915, 736, 936, 835)
cb.imshow(np.linspace(bar_max, 0, 256).reshape(-1, 1), aspect='auto', extent=(0, 1, 0, bar_max), vmin=0, vmax=bar_max, cmap=matplotlib.colors.LinearSegmentedColormap.from_list('c', ['#ffffff', GREY]))
cb.set_xticks([])
cb.set_yticks([])
for s in cb.spines.values():
    s.set_visible(False)
for t in bar_ticks:
    cb.plot([0, .2], [t, t], color='white', lw=0.4)
    cb.plot([.8, 1], [t, t], color='white', lw=0.4)
    y_px = 836.5 - t * 99 / bar_max
    venn.text(941, y_px, str(t), fontsize=8.3, color='#222222', va='center', ha='left')
venn.text(915, 725, 'count', fontsize=9.2, color='#222222', va='center', ha='left')
venn.plot([964.5, 964.5], [690, 871], color='#dcdcdc', lw=0.8)

# ---- letters, frame, caption
venn.text(237, 53.5, 'A', fontsize=12.5, fontweight='bold', color='black', va='center')
venn.text(237, 625.5, 'B', fontsize=12.5, fontweight='bold', color='black', va='center')
venn.plot([10, 10, 16, 1322], [1038, 15, 9.5, 9.5], color='#cccccc', lw=0.8, clip_on=False)

CAP = '#7f7f7f'
venn.text(39, 957, 'FIGURE 2', fontsize=10.5, color='#6f6f6f', family='Lato', fontweight='bold', va='center', alpha=.85)


def runs(x, y, parts):
    r = fig.canvas.get_renderer()
    for s, bold in parts:
        t = venn.text(x, y, s, fontsize=13.8, color=CAP, family='Lato', fontweight='bold' if bold else 'normal', va='baseline')
        x = t.get_window_extent(r).x1 + 4.6


runs(39, 986, [('EXTRACTION OF DIFFERENTIALLY expressed genes (DEGs) (Tier 1).', False), ('(A)', True), ('Volcano plots depicting upregulated and downregulated genes derived from', False)])
runs(39, 1010, [('GSE7000, GSE112958, GSE95104, and GSE2729 (clockwise).', False), ('(B)', True), ('Venn diagram representing common and specific genes between the cohorts.', False)])

fig.savefig('out.png', dpi=100)
